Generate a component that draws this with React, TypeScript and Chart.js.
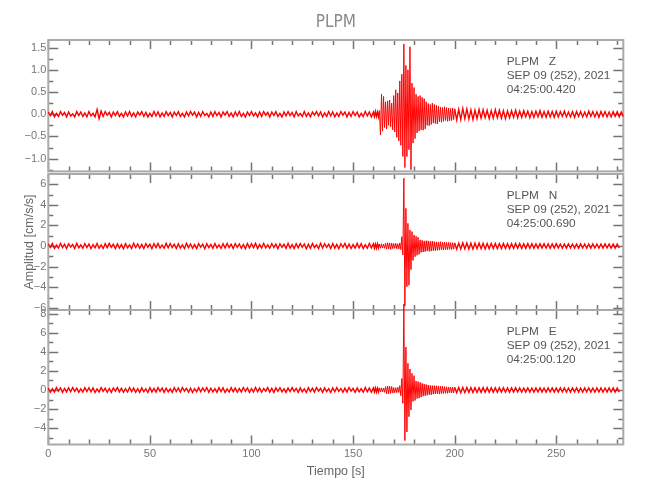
import React, { useEffect, useRef } from "react";
import { Chart, registerables } from "chart.js";

Chart.register(...registerables);

// ---------------- data ----------------
// sample times: pre-event part from 0 s every 1 s, event part from 160 s every 0.5 s, coda from 200 s every 1 s
const preStart = 0;
const preStep = 1;
const eventStart = 160;
const eventStep = 0.5;
const codaStart = 200;
const codaStep = 1;

const zPre = [
  0.05,-0.03,0.06,-0.06,0.02,-0.05,0.06,-0.02,0.04,-0.06,0.05,-0.04,0.01,-0.06,0.06,-0.03,0.05,-0.05,0.03,-0.06,
  0.06,-0.04,0.02,-0.06,0.11,-0.10,0.07,-0.05,0.06,-0.02,0.04,-0.06,0.05,-0.03,0.06,-0.05,0.02,-0.06,0.05,-0.04,
  0.06,-0.05,0.03,-0.06,0.05,-0.02,0.06,-0.05,0.04,-0.06,0.02,-0.05,0.06,-0.04,0.05,-0.06,0.03,-0.05,0.06,-0.03,
  0.04,-0.06,0.05,-0.03,0.06,-0.05,0.02,-0.06,0.05,-0.04,0.06,-0.02,0.05,-0.06,0.04,-0.05,0.06,-0.03,0.02,-0.06,
  0.05,-0.05,0.06,-0.03,0.04,-0.06,0.05,-0.02,0.06,-0.05,0.03,-0.06,0.05,-0.04,0.06,-0.05,0.02,-0.06,0.05,-0.03,
  0.06,-0.04,0.03,-0.06,0.05,-0.05,0.06,-0.02,0.04,-0.06,0.05,-0.03,0.06,-0.05,0.02,-0.06,0.05,-0.04,0.06,-0.03,
  0.04,-0.06,0.06,-0.04,0.02,-0.05,0.06,-0.05,0.03,-0.06,0.05,-0.02,0.06,-0.04,0.05,-0.06,0.03,-0.05,0.06,-0.04,
  0.05,-0.06,0.03,-0.05,0.06,-0.02,0.05,-0.06,0.04,-0.05,0.06,-0.03,0.05,-0.06,0.02,-0.05,0.06,-0.04,0.05,-0.06,
];
const zEvent = [
  0.05,-0.05,0.06,-0.05,0.05,-0.06,0.08,-0.47,0.45,-0.38,0.40,-0.30,0.28,-0.33,0.30,-0.25,0.32,-0.28,0.25,-0.35,
  0.42,-0.40,0.55,-0.52,0.48,-0.60,0.75,-0.70,0.90,-0.95,1.58,-1.20,1.10,-0.95,1.00,-0.80,1.52,-1.25,0.70,-0.65,
  0.60,-0.55,0.45,-0.42,0.40,-0.38,0.42,-0.35,0.38,-0.36,0.35,-0.33,0.28,-0.25,0.24,-0.26,0.22,-0.23,0.25,-0.20,
  0.22,-0.21,0.20,-0.22,0.18,-0.17,0.16,-0.18,0.15,-0.16,0.17,-0.14,0.15,-0.16,0.14,-0.15,0.13,-0.14,0.14,-0.12,
];
const zCoda = [
  0.12,-0.13,0.11,-0.12,0.13,-0.10,0.12,-0.11,0.10,-0.12,0.09,-0.10,0.11,-0.09,0.10,-0.08,0.09,-0.10,0.08,-0.09,
  0.10,-0.08,0.09,-0.09,0.08,-0.10,0.07,-0.08,0.08,-0.07,0.09,-0.08,0.07,-0.07,0.08,-0.06,0.07,-0.08,0.06,-0.07,
  0.07,-0.06,0.08,-0.07,0.06,-0.07,0.07,-0.06,0.06,-0.07,0.07,-0.06,0.06,-0.05,0.07,-0.06,0.05,-0.06,0.06,-0.07,
  0.06,-0.05,0.06,-0.06,0.05,-0.06,0.07,-0.05,0.06,-0.06,0.05,-0.07,0.06,-0.05,0.06,-0.06,0.05,-0.06,0.06,-0.05,
  0.06,-0.06,0.05,-0.05,
];

const nPre = [
  0.22,-0.12,0.25,-0.24,0.10,-0.20,0.26,-0.15,0.18,-0.25,0.22,-0.10,0.15,-0.24,0.26,-0.18,0.12,-0.22,0.24,-0.14,
  0.20,-0.26,0.14,-0.18,0.25,-0.22,0.10,-0.24,0.22,-0.16,0.26,-0.12,0.18,-0.25,0.20,-0.20,0.14,-0.26,0.22,-0.18,
  0.12,-0.24,0.26,-0.15,0.20,-0.22,0.16,-0.25,0.24,-0.12,0.18,-0.26,0.22,-0.16,0.25,-0.20,0.10,-0.22,0.26,-0.18,
  0.24,-0.14,0.18,-0.25,0.22,-0.20,0.12,-0.24,0.26,-0.16,0.20,-0.22,0.14,-0.25,0.24,-0.12,0.18,-0.26,0.22,-0.15,
  0.16,-0.22,0.25,-0.18,0.12,-0.24,0.22,-0.20,0.26,-0.14,0.18,-0.25,0.24,-0.12,0.20,-0.22,0.15,-0.26,0.24,-0.18,
  0.22,-0.16,0.26,-0.24,0.14,-0.20,0.25,-0.18,0.12,-0.22,0.24,-0.15,0.20,-0.26,0.22,-0.14,0.18,-0.24,0.26,-0.20,
  0.14,-0.25,0.22,-0.18,0.24,-0.12,0.20,-0.26,0.18,-0.22,0.25,-0.16,0.12,-0.24,0.26,-0.20,0.22,-0.14,0.18,-0.25,
  0.24,-0.20,0.16,-0.26,0.22,-0.12,0.25,-0.22,0.18,-0.24,0.14,-0.20,0.26,-0.18,0.22,-0.25,0.12,-0.22,0.24,-0.18,
];
const nEvent = [
  0.22,-0.20,0.19,-0.22,0.21,-0.19,0.20,-0.21,0.22,-0.20,0.18,-0.22,0.28,-0.30,0.32,-0.27,0.30,-0.33,0.28,-0.25,
  0.24,-0.22,0.26,-0.25,0.22,-0.28,0.30,-0.35,0.90,-0.87,6.57,-5.83,3.66,-3.95,2.20,-3.80,1.55,-2.30,1.40,-1.40,
  1.07,-1.04,0.95,-0.90,0.85,-0.80,0.60,-0.62,0.55,-0.58,0.50,-0.55,0.52,-0.48,0.50,-0.52,0.45,-0.50,0.48,-0.45,
  0.42,-0.45,0.40,-0.42,0.38,-0.40,0.42,-0.38,0.36,-0.40,0.38,-0.35,0.34,-0.36,0.35,-0.32,0.33,-0.35,0.32,-0.30,
];
const nCoda = [
  0.30,-0.32,0.28,-0.30,0.31,-0.28,0.30,-0.29,0.27,-0.30,0.28,-0.26,0.29,-0.27,0.26,-0.28,0.25,-0.27,0.26,-0.24,
  0.25,-0.26,0.24,-0.25,0.26,-0.23,0.24,-0.25,0.23,-0.24,0.25,-0.22,0.23,-0.24,0.22,-0.23,0.24,-0.21,0.22,-0.23,
  0.21,-0.22,0.23,-0.20,0.22,-0.21,0.20,-0.22,0.21,-0.20,0.22,-0.19,0.20,-0.21,0.19,-0.20,0.21,-0.19,0.20,-0.21,
  0.19,-0.20,0.21,-0.19,0.20,-0.21,0.19,-0.20,0.21,-0.19,0.20,-0.21,0.19,-0.20,0.21,-0.19,0.20,-0.20,0.19,-0.21,
  0.20,-0.19,
];

const ePre = [
  0.20,-0.24,0.14,-0.22,0.26,-0.12,0.22,-0.25,0.16,-0.20,0.24,-0.18,0.26,-0.14,0.20,-0.24,0.12,-0.22,0.25,-0.16,
  0.24,-0.18,0.22,-0.26,0.12,-0.22,0.25,-0.14,0.20,-0.24,0.16,-0.25,0.22,-0.12,0.26,-0.20,0.18,-0.24,0.14,-0.22,
  0.26,-0.16,0.20,-0.24,0.14,-0.25,0.22,-0.18,0.12,-0.26,0.24,-0.20,0.16,-0.22,0.25,-0.14,0.22,-0.24,0.18,-0.20,
  0.12,-0.25,0.24,-0.16,0.22,-0.22,0.26,-0.12,0.18,-0.24,0.20,-0.26,0.14,-0.20,0.25,-0.18,0.22,-0.14,0.26,-0.24,
  0.18,-0.20,0.14,-0.25,0.24,-0.16,0.22,-0.26,0.12,-0.22,0.25,-0.18,0.20,-0.24,0.16,-0.20,0.26,-0.14,0.22,-0.25,
  0.14,-0.22,0.26,-0.18,0.20,-0.24,0.16,-0.12,0.25,-0.22,0.18,-0.26,0.22,-0.14,0.24,-0.20,0.12,-0.25,0.20,-0.16,
  0.25,-0.14,0.18,-0.24,0.22,-0.20,0.12,-0.26,0.24,-0.16,0.20,-0.22,0.26,-0.12,0.18,-0.24,0.22,-0.18,0.14,-0.26,
  0.22,-0.18,0.25,-0.14,0.16,-0.24,0.20,-0.22,0.26,-0.12,0.18,-0.25,0.22,-0.20,0.14,-0.24,0.26,-0.18,0.20,-0.22,
];
const eEvent = [
  0.22,-0.20,0.21,-0.23,0.19,-0.21,0.22,-0.20,0.23,-0.21,0.20,-0.24,0.35,-0.40,0.42,-0.38,0.40,-0.35,0.36,-0.30,
  0.25,-0.28,0.24,-0.26,0.28,-0.25,0.45,-0.60,1.20,-1.40,9.00,-5.30,4.50,-4.40,2.80,-2.80,2.20,-2.10,1.75,-1.20,
  1.50,-1.10,0.95,-0.90,0.88,-0.85,0.80,-0.75,0.70,-0.65,0.62,-0.60,0.58,-0.55,0.52,-0.50,0.48,-0.50,0.46,-0.44,
  0.45,-0.42,0.44,-0.40,0.42,-0.43,0.40,-0.38,0.39,-0.36,0.35,-0.34,0.33,-0.35,0.32,-0.30,0.31,-0.30,0.29,-0.30,
];
const eCoda = [
  0.29,-0.28,0.27,-0.29,0.26,-0.28,0.27,-0.25,0.26,-0.27,0.25,-0.26,0.24,-0.25,0.26,-0.24,0.25,-0.23,0.24,-0.25,
  0.23,-0.24,0.25,-0.22,0.24,-0.23,0.22,-0.24,0.23,-0.22,0.24,-0.21,0.22,-0.23,0.21,-0.22,0.23,-0.22,0.21,-0.23,
  0.22,-0.21,0.23,-0.22,0.21,-0.23,0.22,-0.21,0.23,-0.22,0.21,-0.22,0.23,-0.21,0.22,-0.23,0.21,-0.22,0.22,-0.21,
  0.23,-0.22,0.21,-0.23,0.22,-0.21,0.23,-0.22,0.21,-0.23,0.22,-0.21,0.22,-0.23,0.21,-0.22,0.23,-0.21,0.22,-0.22,
  0.21,-0.22,
];

// axes
const xMin = 0;
const xMax = 283;
const xTicksMajor = [0, 50, 100, 150, 200, 250];
const xTicksMinor = [10,20,30,40,60,70,80,90,110,120,130,140,160,170,180,190,210,220,230,240,260,270,280];

const zRange = [-1.287, 1.671];
const zTicksMajor = [-1.0, -0.5, 0, 0.5, 1.0, 1.5];
const zTicksMinor = [-1.25, -0.75, -0.25, 0.25, 0.75, 1.25];
const nRange = [-6.21, 6.99];
const nTicksMajor = [-6, -4, -2, 0, 2, 4, 6];
const nTicksMinor = [-5, -3, -1, 1, 3, 5];
const eRange = [-5.71, 8.38];
const eTicksMajor = [-4, -2, 0, 2, 4, 6, 8];
const eTicksMinor = [-5, -3, -1, 1, 3, 5, 7];

const chartTitle = "PLPM";
const xTitle = "Tiempo [s]";
const yTitle = "Amplitud [cm/s/s]";
const zLabels = ["PLPM   Z", "SEP 09 (252), 2021", "04:25:00.420"];
const nLabels = ["PLPM   N", "SEP 09 (252), 2021", "04:25:00.690"];
const eLabels = ["PLPM   E", "SEP 09 (252), 2021", "04:25:00.120"];

// ---------------- helpers ----------------
const SANS = '"Liberation Sans", Arial, sans-serif';
const COND = '"DejaVu Sans Condensed", "Liberation Sans", sans-serif';
const PLOT_LEFT = 48.3;
const PLOT_RIGHT = 623.3;
const W = 650;

function buildTrace(pre: number[], ev: number[], coda: number[]) {
  const pts: { x: number; y: number }[] = [];
  pre.forEach((v, i) => pts.push({ x: preStart + i * preStep, y: v }));
  ev.forEach((v, i) => pts.push({ x: eventStart + i * eventStep, y: v }));
  coda.forEach((v, i) => pts.push({ x: codaStart + i * codaStep, y: v }));
  return pts;
}

const minus = (s: string) => s.replace("-", "\u2212");

const framePlugin = {
  id: "frame",
  beforeDatasetsDraw(chart: any, _args: any, opts: any) {
    const { ctx, chartArea: a, scales } = chart;
    const xs = scales.x;
    const ys = scales.y;
    ctx.save();
    ctx.lineWidth = 1.5;
    ctx.strokeStyle = "#747474";
    ctx.beginPath();
    const xAll = [...xTicksMajor.map((v) => [v, 9]), ...xTicksMinor.map((v) => [v, 5])];
    for (const [v, L] of xAll) {
      const px = Math.round(xs.getPixelForValue(v)) + 0.5;
      ctx.moveTo(px, a.top);
      ctx.lineTo(px, a.top + L);
      ctx.moveTo(px, a.bottom);
      ctx.lineTo(px, a.bottom - L);
    }
    const yAll = [...opts.major.map((v: number) => [v, 10]), ...opts.minor.map((v: number) => [v, 5])];
    for (const [v, L] of yAll) {
      const py = Math.round(ys.getPixelForValue(v)) + 0.5;
      ctx.moveTo(a.left, py);
      ctx.lineTo(a.left + L, py);
      ctx.moveTo(a.right, py);
      ctx.lineTo(a.right - L, py);
    }
    ctx.stroke();
    ctx.lineWidth = 2;
    ctx.strokeStyle = "#aaaaaa";
    ctx.strokeRect(a.left, a.top, a.right - a.left, a.bottom - a.top);
    ctx.restore();
  },
  afterDatasetsDraw(chart: any, _args: any, opts: any) {
    const { ctx, chartArea: a } = chart;
    ctx.save();
    ctx.fillStyle = "#555";
    ctx.font = `11.8px ${SANS}`;
    ctx.textAlign = "left";
    ctx.textBaseline = "middle";
    (opts.lines as string[]).forEach((s, i) => ctx.fillText(s, a.left + 458.4, a.top + 21.5 + i * 14.3));
    ctx.restore();
  },
};

type PanelDef = {
  top: number;
  height: number;
  data: { x: number; y: number }[];
  range: number[];
  major: number[];
  minor: number[];
  lines: string[];
  decimals: number;
  padTop: number;
  padBottom: number;
  showTitle?: boolean;
  showYTitle?: boolean;
  showX?: boolean;
};

function makeConfig(p: PanelDef): any {
  return {
    type: "line",
    data: {
      datasets: [
        {
          data: p.data,
          borderColor: "#ff0000",
          borderWidth: 1,
          pointRadius: 0,
          tension: 0,
          clip: false,
          segment: {
            borderWidth: (c: any) => {
              const x = c.p0.parsed.x;
              return x < 163 || x >= 200 ? 1.4 : 1;
            },
          },
        },
      ],
    },
    options: {
      animation: false,
      responsive: false,
      events: [],
      layout: { padding: { top: p.padTop, bottom: p.padBottom, left: 0, right: W - PLOT_RIGHT } },
      plugins: {
        legend: { display: false },
        tooltip: { enabled: false },
        title: {
          display: !!p.showTitle,
          text: chartTitle,
          color: "#8a8a8a",
          fullSize: false,
          font: { size: 17, family: COND, weight: "normal", lineHeight: 1.2 },
          padding: { top: 12, bottom: 7.6 },
        },
        frame: { major: p.major, minor: p.minor, lines: p.lines },
      },
      scales: {
        x: {
          type: "linear",
          display: !!p.showX,
          min: xMin,
          max: xMax,
          afterBuildTicks: (s: any) => {
            s.ticks = xTicksMajor.map((v) => ({ value: v }));
          },
          afterFit: (s: any) => {
            s.height = p.showX ? 55.5 : 0;
          },
          grid: { display: false, drawTicks: false },
          border: { display: false },
          ticks: {
            padding: 3,
            color: "#777",
            maxRotation: 0,
            autoSkip: false,
            font: { size: 11, family: SANS },
            callback: (v: number) => String(v),
          },
          title: {
            display: true,
            text: xTitle,
            color: "#666",
            font: { size: 12.5, family: SANS, lineHeight: 1.2 },
            padding: { top: 0, bottom: 20.5 },
          },
        },
        y: {
          type: "linear",
          min: p.range[0],
          max: p.range[1],
          afterBuildTicks: (s: any) => {
            s.ticks = p.major.map((v) => ({ value: v }));
          },
          afterFit: (s: any) => {
            s.width = PLOT_LEFT;
          },
          grid: { display: false, drawTicks: false },
          border: { display: false },
          ticks: {
            padding: 2,
            color: "#777",
            autoSkip: false,
            font: { size: 11, family: SANS },
            callback: (v: number) => minus(Number(v).toFixed(p.decimals)),
          },
          title: {
            display: !!p.showYTitle,
            text: yTitle,
            color: "#666",
            font: { size: 12.5, family: SANS, lineHeight: 1.2 },
            padding: { top: 22, bottom: 0 },
          },
        },
      },
    },
    plugins: [framePlugin],
  };
}

const panels: PanelDef[] = [
  {
    top: 0, height: 180, data: buildTrace(zPre, zEvent, zCoda), range: zRange,
    major: zTicksMajor, minor: zTicksMinor, lines: zLabels, decimals: 1,
    padTop: 0, padBottom: 6, showTitle: true,
  },
  {
    top: 160, height: 160, data: buildTrace(nPre, nEvent, nCoda), range: nRange,
    major: nTicksMajor, minor: nTicksMinor, lines: nLabels, decimals: 0,
    padTop: 14, padBottom: 10, showYTitle: true,
  },
  {
    top: 290, height: 210, data: buildTrace(ePre, eEvent, eCoda), range: eRange,
    major: eTicksMajor, minor: eTicksMinor, lines: eLabels, decimals: 0,
    padTop: 20, padBottom: 0, showX: true,
  },
];

export default function App() {
  const refs = [useRef<HTMLCanvasElement>(null), useRef<HTMLCanvasElement>(null), useRef<HTMLCanvasElement>(null)];

  useEffect(() => {
    const charts = panels.map((p, i) => new Chart(refs[i].current as HTMLCanvasElement, makeConfig(p)));
    return () => charts.forEach((c) => c.destroy());
  }, []);

  return (
    <div style={{ position: "absolute", left: 0, top: 0, width: W, height: 500, background: "#fff" }}>
      {panels.map((p, i) => (
        <canvas
          key={i}
          ref={refs[i]}
          width={W}
          height={p.height}
          style={{ position: "absolute", left: 0, top: p.top, width: W, height: p.height }}
        />
      ))}
    </div>
  );
}
